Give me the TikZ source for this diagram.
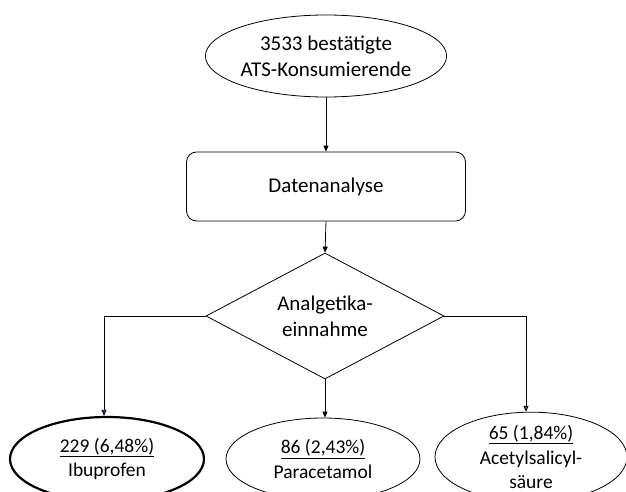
\documentclass[tikz,border=0pt]{standalone}
\usepackage{fontspec}
\setmainfont{Carlito}
\usetikzlibrary{shapes.geometric,arrows.meta,calc}
\begin{document}
\begin{tikzpicture}[x=1pt,y=-1pt,
  base/.style={draw=black,line width=0.8pt,align=center,inner sep=0pt,font=\fontsize{21}{26}\selectfont},
  oval/.style={base,ellipse},
  small/.style={font=\fontsize{19.5}{24.5}\selectfont},
  box/.style={base,rounded corners=10pt},
  arr/.style={draw=black,line width=0.8pt,-{Triangle[length=6pt,width=5pt]}},
  arrb/.style={draw=black,line width=0.8pt,-{Triangle[length=6pt,width=5pt,fill={rgb,255:red,47;green,85;blue,151}]}}
]
\useasboundingbox (0,0) rectangle (626,492);
\clip (0,0) rectangle (626,492);
\fill[white] (0,0) rectangle (626,492);
\node[oval,minimum width=192pt,minimum height=82pt] (top) at (326,56) {3533 bestätigte\\ATS-Konsumierende};
\node[box,minimum width=279pt,minimum height=69pt] (ana) at (326,186.5) {Datenanalyse};
\node[base,diamond,minimum width=238pt,minimum height=126pt,aspect=1.9] (dia) at (325,316) {Analgetika-\\einnahme};
\node[oval,small,line width=2.2pt,minimum width=194pt,minimum height=84pt] (ibu) at (107,459) {\underline{229 (6,48\%)}\\Ibuprofen};
\node[oval,small,minimum width=194pt,minimum height=82pt] (par) at (323,459) {\underline{86 (2,43\%)}\\Paracetamol};
\node[oval,small,minimum width=192pt,minimum height=80pt] (ace) at (531,457) {\underline{65 (1,84\%)}\\Acetylsalicyl-\\säure};
\draw[arr] (top.south) -- (ana.north);
\draw[arr] (ana.south) -- (dia.north);
\draw[arr] (dia.south) -- ($(par.north)+(2,0)$);
\draw[arrb] (dia.west) -| ($(ibu.north)+(-3,0)$);
\draw[arrb] (dia.east) -| ($(ace.north)+(-5,0)$);
\end{tikzpicture}
\end{document}
